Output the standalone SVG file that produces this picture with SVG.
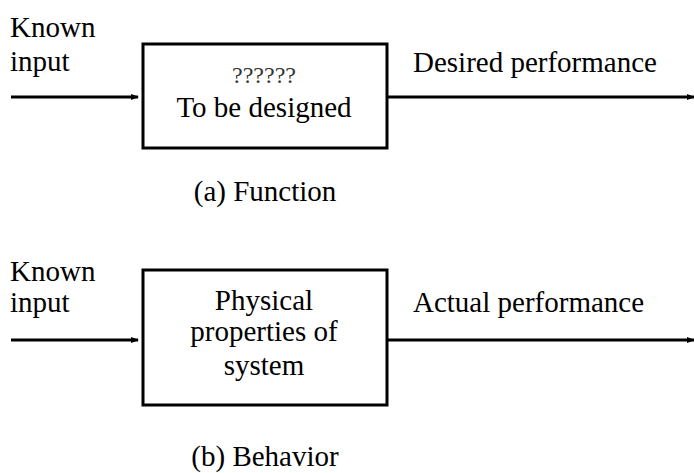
<svg xmlns="http://www.w3.org/2000/svg" width="694" height="473" viewBox="0 0 694 473">
<defs>
<marker id="ah" markerWidth="8" markerHeight="6" refX="7" refY="3" orient="auto" markerUnits="userSpaceOnUse">
<path d="M0,0 L8,3 L0,6 Z" fill="#000"/>
</marker>
<style>
.box{fill:#fff;stroke:#000;stroke-width:3}
.ln{stroke:#000;stroke-width:3;fill:none;marker-end:url(#ah)}
</style>
</defs>
<rect width="694" height="473" fill="#fff"/>
<g id="connectors">
<line class="ln" x1="11" y1="97" x2="138" y2="97"/>
<line class="ln" x1="387" y1="97" x2="694" y2="97"/>
<line class="ln" x1="11" y1="340" x2="138" y2="340"/>
<line class="ln" x1="387" y1="340" x2="694" y2="340"/>
</g>
<g font-family="Liberation Serif, Times New Roman, DejaVu Serif, serif" font-size="29" fill="#000">
<g id="nodeA" text-anchor="middle">
<rect class="box" x="143" y="44" width="244" height="104"/>
<text x="264" y="83" font-size="24" fill="#333">??????</text>
<text x="264" y="117">To be designed</text>
</g>
<g id="nodeB" text-anchor="middle">
<rect class="box" x="143" y="270" width="244" height="135"/>
<text x="264" y="310">Physical</text>
<text x="264" y="341">properties of</text>
<text x="264" y="375">system</text>
</g>
<g id="labels">
<text x="10" y="37">Known</text>
<text x="10" y="71">input</text>
<text x="413" y="72">Desired performance</text>
<text x="265" y="201" text-anchor="middle">(a) Function</text>
<text x="10" y="281">Known</text>
<text x="10" y="312">input</text>
<text x="413" y="312">Actual performance</text>
<text x="265" y="466" text-anchor="middle">(b) Behavior</text>
</g>
</g>
</svg>
